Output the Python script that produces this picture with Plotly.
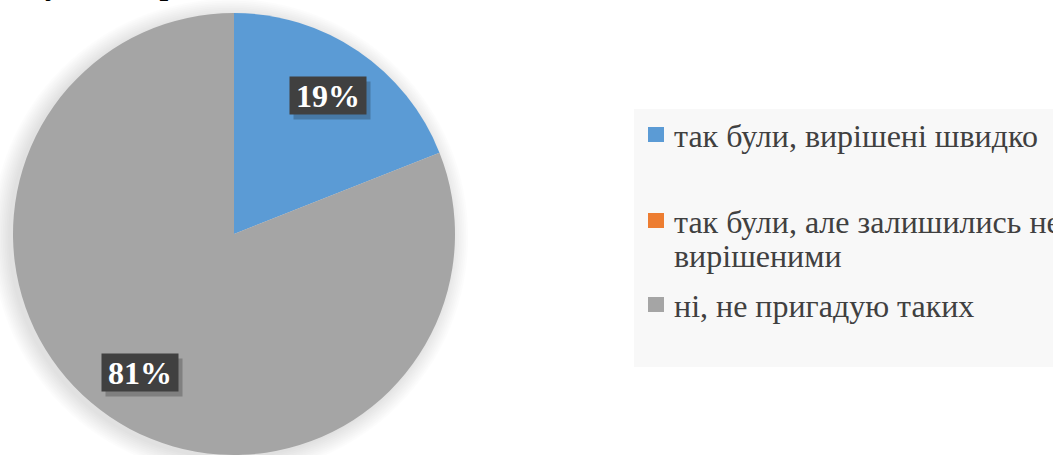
import math
import textwrap
import plotly.graph_objects as go

# ---- data ----
categories = ["так були, вирішені швидко",
              "так були, але залишились не вирішеними",
              "ні, не пригадую таких"]
values = [19, 0, 81]
colors = ["#5B9BD5", "#ED7D31", "#A5A5A5"]
title_fragment = "Ситуації на роботі"

W, H = 1053, 455
SERIF = "Liberation Serif, Times New Roman, serif"

def px(x):
    return x / W

def py(y):
    return 1 - y / H

# pie geometry (pixels)
cx, cy, R = 234, 234, 221

fig = go.Figure()
fig.add_trace(go.Pie(
    labels=categories, values=values, sort=False, direction="clockwise",
    rotation=0, marker=dict(colors=colors, line=dict(width=0)),
    textinfo="none", hoverinfo="label+percent", showlegend=False,
    domain=dict(x=[px(cx - R), px(cx + R)], y=[py(cy + R), py(cy - R)]),
))

shapes = []
# soft shadow behind the pie
for k in range(10):
    rr = R + 1 + k * 1.8
    sx, sy = cx - 4, cy + 3
    shapes.append(dict(type="circle", xref="paper", yref="paper", layer="below",
                       x0=px(sx - rr), x1=px(sx + rr), y0=py(sy + rr), y1=py(sy - rr),
                       fillcolor="rgba(0,0,0,0.011)", line=dict(width=0)))

annotations = []
# percentage labels
total = sum(values)
cum = 0
for v in values:
    if v > 0:
        mid = (cum + v / 2) / total * 2 * math.pi
        lx = cx + 0.76 * R * math.sin(mid)
        ly = cy - 0.76 * R * math.cos(mid)
        annotations.append(dict(x=px(lx + 4), y=py(ly + 5), xref="paper", yref="paper",
                                xanchor="center", yanchor="middle",
                                text=" ", showarrow=False, width=76, height=37,
                                bgcolor="rgba(0,0,0,0.22)", borderpad=0))
        annotations.append(dict(x=px(lx), y=py(ly), xref="paper", yref="paper",
                                xanchor="center", yanchor="middle",
                                text="<b>%d%%</b>" % round(v / total * 100), showarrow=False,
                                width=76, height=37, bgcolor="#404040", borderpad=0,
                                font=dict(family=SERIF, size=32, color="white")))
    cum += v

# legend box
shapes.append(dict(type="rect", xref="paper", yref="paper", layer="below",
                   x0=px(634), x1=px(1060), y0=py(367), y1=py(109),
                   fillcolor="#F8F8F8", line=dict(width=0)))
item_tops = [136, 222, 306]
for cat, col, ty in zip(categories, colors, item_tops):
    shapes.append(dict(type="rect", xref="paper", yref="paper",
                       x0=px(648), x1=px(664), y0=py(ty + 6), y1=py(ty - 9),
                       fillcolor=col, line=dict(width=0)))
    for i, line in enumerate(textwrap.wrap(cat, 27)):
        annotations.append(dict(x=px(672), y=py(ty + i * 34), xref="paper", yref="paper",
                                text=line, showarrow=False, xanchor="left", yanchor="middle",
                                font=dict(family=SERIF, size=32, color="#404040")))

# cropped title at the very top
annotations.append(dict(x=px(-12), y=py(-16), xref="paper", yref="paper",
                        text="<b>%s</b>" % title_fragment, showarrow=False,
                        xanchor="left", yanchor="middle",
                        font=dict(family=SERIF, size=31, color="black")))

fig.update_layout(width=W, height=H, margin=dict(l=0, r=0, t=0, b=0),
                  paper_bgcolor="white", plot_bgcolor="white",
                  shapes=shapes, annotations=annotations, showlegend=False)
fig.write_html("out.html", config={"displayModeBar": False},
               post_script="document.body.style.margin='0';document.body.style.overflow='hidden';")
